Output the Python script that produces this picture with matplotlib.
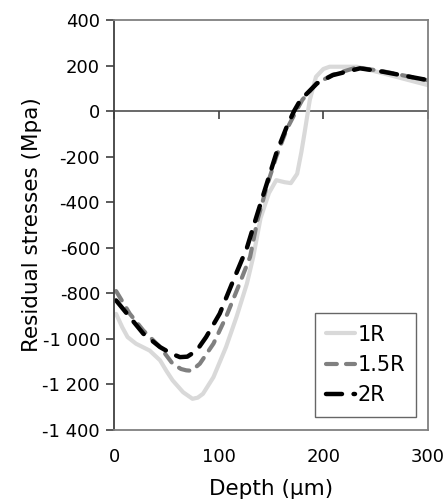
import matplotlib
matplotlib.use("Agg")
import matplotlib.pyplot as plt

# Depth (um) and residual stress (MPa)
depth_1r = [2, 8, 13, 21, 34, 44, 50, 56, 66, 75, 80, 85, 95, 107, 117, 127, 133, 140, 148, 155, 163, 169, 175, 179, 182, 187, 193, 200, 206, 232, 257, 300]
stress_1r = [-890, -950, -992, -1021, -1051, -1094, -1140, -1182, -1234, -1263, -1258, -1241, -1168, -1036, -904, -757, -640, -470, -360, -303, -312, -316, -275, -180, -97, 48, 151, 185, 195, 195, 166, 114]

depth_15r = [2, 15, 28, 44, 56, 64, 69, 74, 82, 95, 107, 120, 130, 137, 146, 155, 165, 174, 180, 193, 209, 232, 257, 300]
stress_15r = [-790, -889, -963, -1036, -1109, -1132, -1138, -1140, -1109, -1021, -904, -757, -640, -480, -330, -200, -80, 0, 50, 120, 160, 192, 175, 135]

depth_2r = [2, 15, 28, 44, 55, 63, 70, 79, 88, 101, 114, 127, 136, 146, 155, 165, 172, 178, 194, 209, 235, 257, 300]
stress_2r = [-831, -904, -977, -1036, -1065, -1080, -1078, -1051, -992, -889, -743, -600, -465, -318, -186, -69, 0, 48, 122, 158, 188, 173, 136]

y_ticks = [400, 200, 0, -200, -400, -600, -800, -1000, -1200, -1400]
x_ticks = [0, 100, 200, 300]


def fmt_thousands(v):
    s = f"{abs(int(v)):,}".replace(",", " ")
    return ("-" if v < 0 else "") + s


fig = plt.figure(figsize=(4.45, 5.01), dpi=100)
ax = fig.add_axes([0.2562, 0.1417, 0.7056, 0.8183])

ax.plot(depth_1r, stress_1r, color="#d9d9d9", lw=3.0, label="1R",
        solid_joinstyle="round", solid_capstyle="round")
ax.plot(depth_15r, stress_15r, color="#808080", lw=3.0, label="1.5R",
        dashes=(2.6, 2.2), dash_capstyle="round")
ax.plot(depth_2r, stress_2r, color="black", lw=3.2, label="2R",
        dashes=(3.6, 2.6), dash_capstyle="round")

ymin, ymax = -1400, 400
ax.set_xlim(0, 300)
ax.set_ylim(ymin, ymax)

ax.set_yticks(y_ticks)
ax.set_yticklabels([fmt_thousands(v) for v in y_ticks])
ax.set_xticks(x_ticks)
ax.tick_params(axis="y", direction="out", length=6, width=1.2, color="#404040",
               labelsize=13, pad=4)
ax.tick_params(axis="x", length=0, labelsize=13, pad=13)

for side in ["top", "right", "bottom"]:
    ax.spines[side].set_color("#808080")
    ax.spines[side].set_linewidth(1.3)
ax.spines["left"].set_color("#404040")
ax.spines["left"].set_linewidth(1.3)

# horizontal axis line crossing at zero, ticks hanging below it
zero_pos = (0 - ymin) / (ymax - ymin)
sec = ax.secondary_xaxis(zero_pos)
sec.set_xticks(x_ticks)
sec.tick_params(axis="x", which="both", direction="in", length=6, width=1.2, color="#404040",
                labelbottom=False, labeltop=False, top=True, bottom=False)
sec.spines["top"].set_visible(True)
sec.spines["top"].set_color("#404040")
sec.spines["top"].set_linewidth(1.1)
sec.spines["bottom"].set_visible(False)

ax.set_xlabel("Depth (µm)", fontsize=15.5, labelpad=9)
ax.set_ylabel("Residual stresses (Mpa)", fontsize=15.5, labelpad=0)

leg = ax.legend(loc="lower right", bbox_to_anchor=(0.963, 0.032), fontsize=15,
                frameon=True, fancybox=False, handlelength=1.4, handletextpad=0.1,
                borderpad=0.55, labelspacing=0.5, borderaxespad=0)
leg.get_frame().set_edgecolor("#404040")
leg.get_frame().set_linewidth(1.0)

fig.savefig("out.png", dpi=100)
